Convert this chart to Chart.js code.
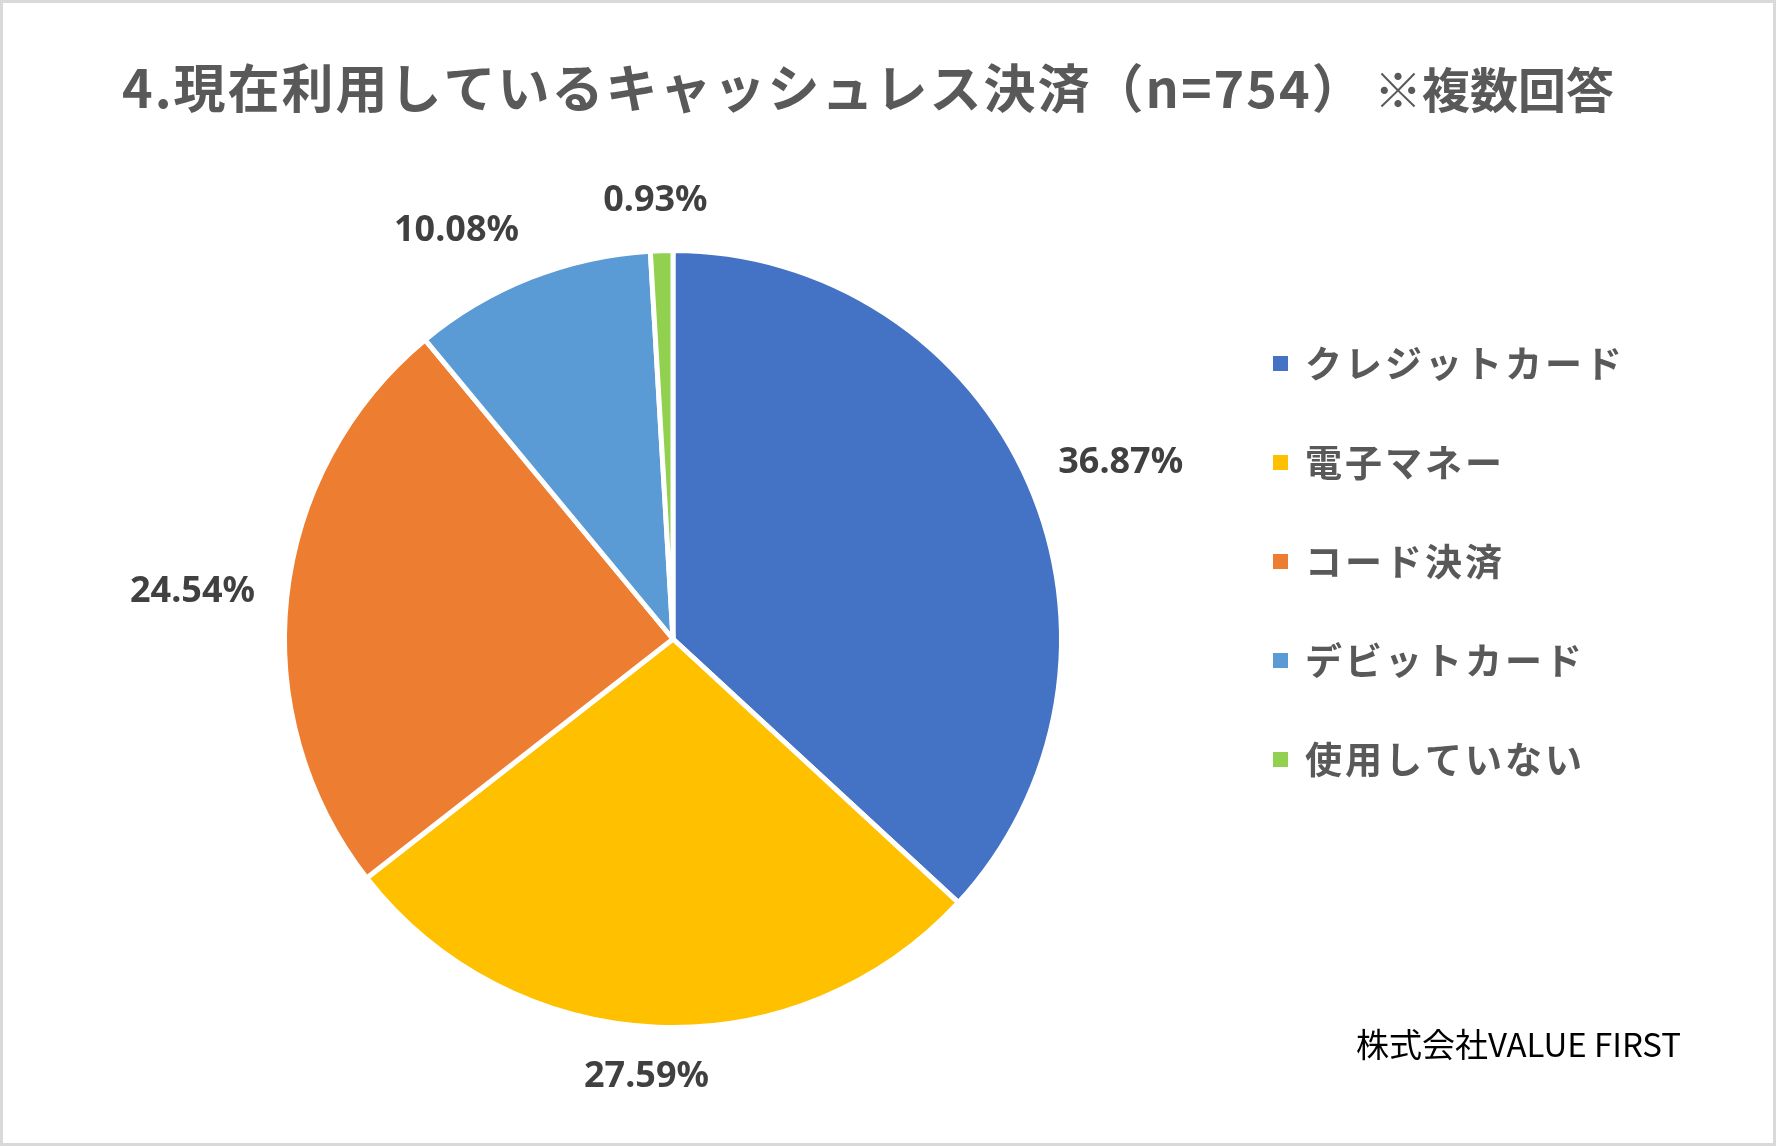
<!DOCTYPE html>
<html>
<head>
<meta charset="utf-8">
<script src="https://cdn.jsdelivr.net/npm/chart.js@4.4.1/dist/chart.umd.min.js"></script>
<style>
  html, body { margin: 0; padding: 0; background: #fff; }
  canvas { display: block; }
</style>
</head>
<body>
<canvas id="myPieChart" width="1776" height="1146"></canvas>
<script>
// data
const categories = ["クレジットカード", "電子マネー", "コード決済", "デビットカード", "使用していない"];
const shares = [36.87, 27.59, 24.54, 10.08, 0.93];
const sliceColors = ["#4472C4", "#FFC000", "#ED7D31", "#5B9BD5", "#92D050"];
const titleMain = "4.現在利用しているキャッシュレス決済（n=754）";
const titleNote = "※複数回答";
const creditText = "株式会社VALUE FIRST";

// background, frame, title and credit
var framePlugin = {
    id: "frame",
    beforeDraw: function (chart) {
        var ctx = chart.ctx;
        ctx.save();
        ctx.fillStyle = "#ffffff";
        ctx.fillRect(0, 0, chart.width, chart.height);
        ctx.strokeStyle = "#d9d9d9";
        ctx.lineWidth = 3;
        ctx.strokeRect(1.5, 1.5, chart.width - 3, chart.height - 3);

        ctx.fillStyle = "#595959";
        ctx.textBaseline = "middle";
        ctx.textAlign = "left";
        ctx.font = "700 52px 'Noto Sans CJK JP'";
        ctx.letterSpacing = "2px";
        ctx.fillText(titleMain, 122, 88);
        ctx.font = "700 48px 'Noto Sans CJK JP'";
        ctx.letterSpacing = "0px";
        ctx.fillText(titleNote, 1374, 90);

        ctx.fillStyle = "#000000";
        ctx.font = "400 33px 'Noto Sans CJK JP'";
        ctx.fillText(creditText, 1356, 1044);
        ctx.restore();
    },
};

// legend on the right
var legendPlugin = {
    id: "sideLegend",
    afterDraw: function (chart) {
        var ctx = chart.ctx;
        var ds = chart.data.datasets[0];
        ctx.save();
        ctx.textBaseline = "middle";
        ctx.textAlign = "left";
        ctx.font = "700 37px 'Noto Sans CJK JP'";
        ctx.letterSpacing = "3px";
        chart.data.labels.forEach(function (label, i) {
            var y = 364 + i * 99;
            ctx.fillStyle = ds.backgroundColor[i];
            ctx.fillRect(1273, y - 8, 15, 15);
            ctx.fillStyle = "#595959";
            ctx.fillText(label, 1305, y);
        });
        ctx.restore();
    },
};

// percentage labels outside each slice
var outsideLabels = {
    id: "outsideLabels",
    afterDatasetsDraw: function (chart) {
        var ctx = chart.ctx;
        var meta = chart.getDatasetMeta(0);
        ctx.save();
        ctx.font = "700 36px 'Noto Sans'";
        ctx.fillStyle = "#404040";
        ctx.textAlign = "center";
        ctx.textBaseline = "middle";
        meta.data.forEach(function (arc, i) {
            var p = arc.getProps(["x", "y", "startAngle", "endAngle", "outerRadius"], true);
            var mid = (p.startAngle + p.endAngle) / 2;
            var c = Math.cos(mid), s = Math.sin(mid);
            var text = chart.data.datasets[0].data[i].toFixed(2) + "%";
            var halfW = ctx.measureText(text).width / 2;
            var halfH = 18;
            var d = p.outerRadius + 32;
            var f = Math.max(-1, Math.min(1, c * 3.5));
            var x = p.x + c * d + halfW * f;
            var y = p.y + s * d + halfH * s;
            ctx.fillText(text, x, y);
        });
        ctx.restore();
    },
};

var ctx = document.getElementById("myPieChart").getContext("2d");

new Chart(ctx, {
    type: "pie",
    data: {
        labels: categories,
        datasets: [
            {
                data: shares,
                backgroundColor: sliceColors,
                borderColor: "#ffffff",
                borderWidth: 5,
            },
        ],
    },
    options: {
        responsive: false,
        animation: false,
        layout: {
            padding: { left: 282, top: 248, right: 712, bottom: 116 },
        },
        plugins: {
            legend: { display: false },
            title: { display: false },
            tooltip: { enabled: false },
        },
    },
    plugins: [framePlugin, legendPlugin, outsideLabels],
});
</script>
</body>
</html>
